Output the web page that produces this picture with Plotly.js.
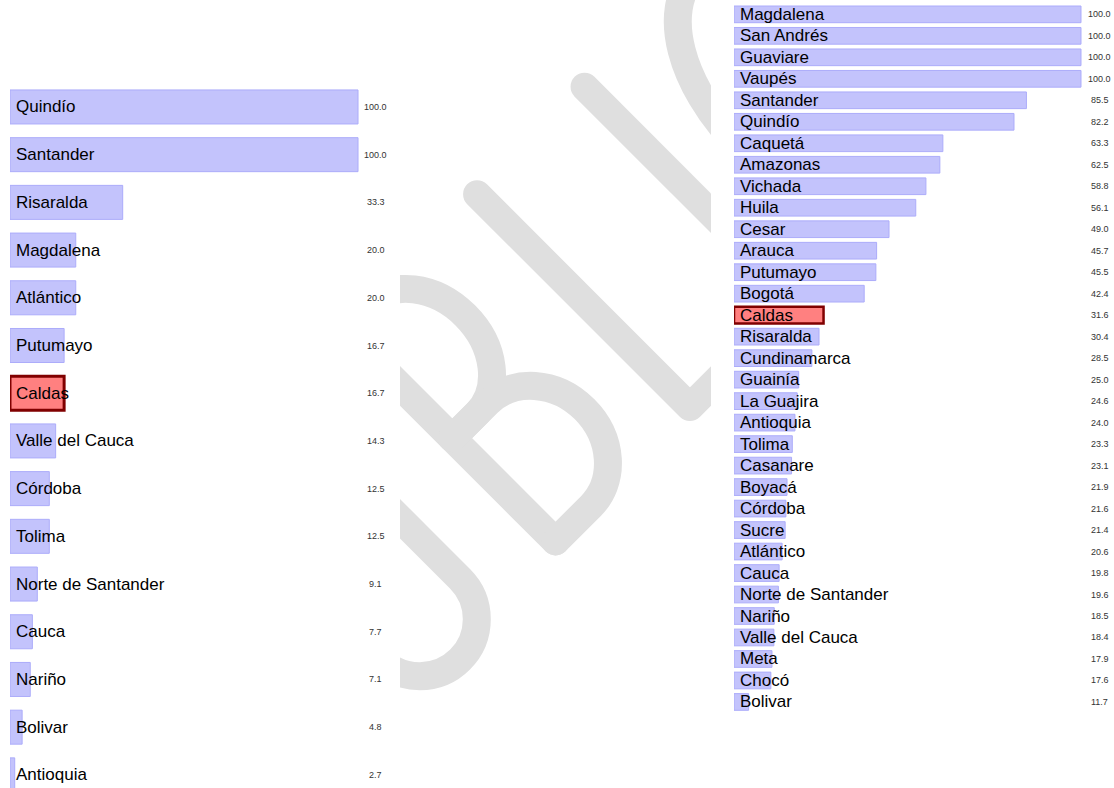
<!DOCTYPE html>
<html>
<head>
<meta charset="utf-8">
<script src="https://cdn.plot.ly/plotly-3.0.1.min.js"></script>
<style>html,body{margin:0;padding:0;background:#fff;overflow:hidden}</style>
</head>
<body>
<div id="chart" style="width:1114px;height:788px"></div>
<script>
// ---- data ----
const leftCategories = ['Quindío','Santander','Risaralda','Magdalena','Atlántico','Putumayo','Caldas',
  'Valle del Cauca','Córdoba','Tolima','Norte de Santander','Cauca','Nariño','Bolivar','Antioquia'];
const leftValues = [100.0,100.0,33.3,20.0,20.0,16.7,16.7,14.3,12.5,12.5,9.1,7.7,7.1,4.8,2.7];

const rightCategories = ['Magdalena','San Andrés','Guaviare','Vaupés','Santander','Quindío','Caquetá',
  'Amazonas','Vichada','Huila','Cesar','Arauca','Putumayo','Bogotá','Caldas','Risaralda','Cundinamarca',
  'Guainía','La Guajira','Antioquia','Tolima','Casanare','Boyacá','Córdoba','Sucre','Atlántico','Cauca',
  'Norte de Santander','Nariño','Valle del Cauca','Meta','Chocó','Bolivar'];
const rightValues = [100.0,100.0,100.0,100.0,85.5,82.2,63.3,62.5,58.8,56.1,49.0,45.7,45.5,42.4,31.6,30.4,28.5,
  25.0,24.6,24.0,23.3,23.1,21.9,21.6,21.4,20.6,19.8,19.6,18.5,18.4,17.9,17.6,11.7];

const highlightName = 'Caldas';

// ---- styling ----
const W = 1114, H = 788;
const FONT = 'Liberation Sans, Arial, Helvetica, sans-serif';
const barFill = 'rgb(195,195,252)', barLine = 'rgb(172,172,250)';
const hiFill = '#ff8080', hiLine = '#800000';

const leftX = {px:[10, 400], range:[1.36, 111.9]};
const rightX = {px:[734, 1114], range:[7.81, 108.77]};
const valueLabelX = 105;

function pxPerUnit(ax){ return (ax.px[1]-ax.px[0])/(ax.range[1]-ax.range[0]); }

function panelBars(cats, vals, ax, xa, ya, barWidth, hiWidth){
  const xmin = ax.range[0];
  const isHi = cats.map(c => c === highlightName);
  return {
    type:'bar', orientation:'h', xaxis:xa, yaxis:ya,
    y: cats, x: vals.map(v => v - xmin), base: cats.map(() => xmin),
    width: barWidth,
    marker:{
      color: isHi.map(h => h ? hiFill : barFill),
      line:{color: isHi.map(h => h ? hiLine : barLine), width: isHi.map(h => h ? hiWidth : 1)}
    },
    cliponaxis:false, hoverinfo:'skip'
  };
}

function panelLabels(cats, vals, ax, xa, ya){
  const labelX = ax.range[0] + 3.8 / pxPerUnit(ax);
  const out = [];
  cats.forEach((c, i) => {
    out.push({xref:xa, yref:ya, x:labelX, y:c, text:c, showarrow:false,
      xanchor:'left', yanchor:'middle', font:{family:FONT, size:17, color:'#000'}});
    out.push({xref:xa, yref:ya, x:valueLabelX, y:c, text:vals[i].toFixed(1), showarrow:false,
      xanchor:'center', yanchor:'middle', font:{family:FONT, size:9, color:'#333'}});
  });
  return out;
}

// ---- watermark (decorative) ----
const wm = '<svg xmlns="http://www.w3.org/2000/svg" width="1114" height="788" viewBox="0 0 1114 788">' +
  '<defs><clipPath id="c"><rect x="400" y="0" width="311" height="788"/></clipPath></defs>' +
  '<g clip-path="url(#c)"><g transform="translate(400,400) rotate(-45)" fill="none" stroke="#dfdfdf" ' +
  'stroke-width="28" stroke-linecap="round" stroke-linejoin="round">' +
  '<path d="M -84 -91 V 169 A 57 57 0 0 1 -198 169 V -91"/>' +
  '<path d="M 10 -91 V 210"/>' +
  '<path d="M 10 -91 H 45 A 61 77.5 0 0 1 45 64 H 10"/>' +
  '<path d="M 10 64 H 60 A 64 73 0 0 1 60 210 H 10"/>' +
  '<path d="M 200 -91 V 210 H 300"/>' +
  '<path d="M 352 -91 V 210"/>' +
  '<path d="M 573.6 -48 A 90 152 0 1 0 573.6 167"/>' +
  '</g></g></svg>';

const traces = [
  panelBars(leftCategories, leftValues, leftX, 'x', 'y', 0.713, 3),
  panelBars(rightCategories, rightValues, rightX, 'x2', 'y2', 0.777, 2.5)
];

const hidden = {visible:false, fixedrange:true, showgrid:false, zeroline:false};
const layout = {
  width:W, height:H, autosize:false,
  margin:{l:0, r:0, t:0, b:0, pad:0},
  paper_bgcolor:'#ffffff', plot_bgcolor:'rgba(0,0,0,0)',
  showlegend:false,
  xaxis: Object.assign({}, hidden, {domain:[leftX.px[0]/W, leftX.px[1]/W], range:leftX.range, anchor:'y'}),
  yaxis: Object.assign({}, hidden, {domain:[0, 1-83.1/H], range:[14.275, -0.5], anchor:'x',
           type:'category', categoryorder:'array', categoryarray:leftCategories}),
  xaxis2: Object.assign({}, hidden, {domain:[rightX.px[0]/W, rightX.px[1]/W], range:rightX.range, anchor:'y2'}),
  yaxis2: Object.assign({}, hidden, {domain:[1-712.7/H, 1-3.6/H], range:[32.5, -0.5], anchor:'x2',
           type:'category', categoryorder:'array', categoryarray:rightCategories}),
  annotations: [
    ...panelLabels(leftCategories, leftValues, leftX, 'x', 'y'),
    ...panelLabels(rightCategories, rightValues, rightX, 'x2', 'y2')
  ],
  images:[{
    source:'data:image/svg+xml;charset=utf-8,' + encodeURIComponent(wm),
    xref:'paper', yref:'paper', x:0, y:1, sizex:1, sizey:1,
    xanchor:'left', yanchor:'top', sizing:'stretch', layer:'below'
  }]
};

Plotly.newPlot('chart', traces, layout, {staticPlot:true, displayModeBar:false});
</script>
</body>
</html>
